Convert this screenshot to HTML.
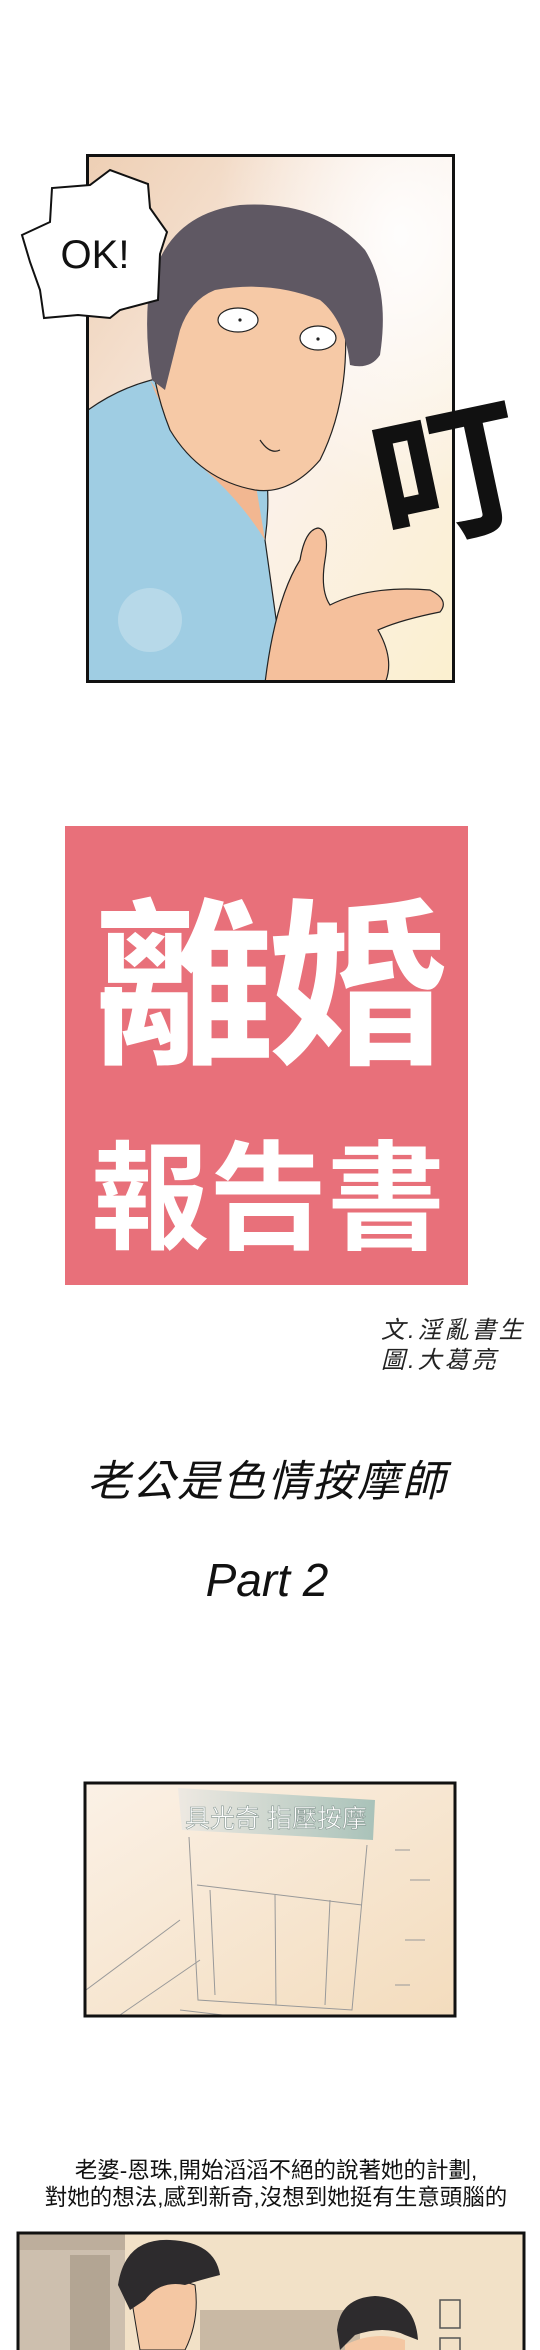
<!DOCTYPE html>
<html><head><meta charset="utf-8">
<style>
html,body{margin:0;padding:0;background:#fff;}
body{width:540px;height:2350px;overflow:hidden;position:relative;}
svg{display:block;}
.cjk{font-family:"Liberation Sans","Noto Sans CJK TC",sans-serif;}
</style></head>
<body>
<svg width="540" height="2350" viewBox="0 0 540 2350" xmlns="http://www.w3.org/2000/svg">
<defs>
 <linearGradient id="p1bg" x1="0" y1="0" x2="1" y2="1">
  <stop offset="0" stop-color="#eecfb4"/><stop offset="0.55" stop-color="#fbf1ea"/><stop offset="1" stop-color="#fbf0cf"/>
 </linearGradient>
 <radialGradient id="glow" cx="0.85" cy="0.15" r="0.5">
  <stop offset="0" stop-color="#fff" stop-opacity="0.9"/><stop offset="1" stop-color="#fff" stop-opacity="0"/>
 </radialGradient>
 <linearGradient id="p2bg" x1="0" y1="0" x2="1" y2="1">
  <stop offset="0" stop-color="#fbf1e6"/><stop offset="1" stop-color="#f3dcbd"/>
 </linearGradient>
 <linearGradient id="sign" x1="0" y1="0" x2="1" y2="0">
  <stop offset="0" stop-color="#eee9e2"/><stop offset="1" stop-color="#a9c2b9"/>
 </linearGradient>
 <clipPath id="c1"><rect x="88" y="156" width="365" height="525"/></clipPath>
 <clipPath id="c2"><rect x="86" y="1784" width="368" height="231"/></clipPath>
 <clipPath id="c3"><rect x="19" y="2234" width="504" height="120"/></clipPath>
</defs>

<g>
 <rect x="86" y="154" width="369" height="529" fill="url(#p1bg)"/>
 <g clip-path="url(#c1)">
  <rect x="86" y="154" width="369" height="529" fill="url(#glow)"/>
  <path d="M88 410 Q130 380 180 375 L250 400 Q275 470 265 540 L285 683 L88 683 Z" fill="#9fcde3" stroke="#222" stroke-width="1.2"/>
  <path d="M150 380 Q200 460 255 480 L265 540 Q240 500 205 470 Q170 430 150 380Z" fill="#f2b791"/>
  <path d="M155 290 Q165 250 230 250 Q330 250 345 320 Q350 400 320 460 Q290 495 255 490 Q200 480 170 430 Q150 380 150 330 Z" fill="#f6c9a6" stroke="#222" stroke-width="1.2"/>
  <path d="M148 300 Q160 215 240 205 Q320 200 365 250 Q390 290 380 355 Q370 370 350 365 Q345 320 320 300 Q270 280 215 290 Q190 300 180 330 Q170 370 165 390 L152 380 Q145 340 148 300Z" fill="#5f5863"/>
  <ellipse cx="238" cy="320" rx="20" ry="12" fill="#fff" stroke="#222" stroke-width="1.2"/>
  <ellipse cx="318" cy="338" rx="18" ry="12" fill="#fff" stroke="#222" stroke-width="1.2"/>
  <circle cx="240" cy="320" r="1.6" fill="#222"/><circle cx="318" cy="339" r="1.6" fill="#222"/>
  <path d="M260 440 Q270 455 280 450" fill="none" stroke="#222" stroke-width="1.2"/>
  <path d="M265 683 Q275 600 300 560 Q305 530 318 528 Q330 530 325 560 Q320 590 330 605 Q370 585 430 590 Q450 600 440 612 Q400 620 378 630 Q395 660 385 683Z" fill="#f5c09c" stroke="#222" stroke-width="1.2"/>
  <circle cx="150" cy="620" r="32" fill="#cfe6ef" opacity="0.5"/>
 </g>
 <rect x="87.5" y="155.5" width="366" height="526" fill="none" stroke="#111" stroke-width="3"/>
</g>
<g>
 <path d="M22 235 L50 222 L52 188 L90 185 L110 170 L148 184 L150 208 L167 232 L160 254 L158 300 L120 310 L110 318 L78 315 L44 318 L40 290 L30 262 Z" fill="#fff" stroke="#111" stroke-width="2"/>
 <text x="95" y="268" text-anchor="middle" font-family="Liberation Sans, sans-serif" font-size="40" fill="#111">OK!</text>
</g>
<text x="445" y="530" text-anchor="middle" class="cjk" font-size="150" font-weight="bold" fill="#111" transform="rotate(-12 445 460)">叮</text>

<g>
 <rect x="65" y="826" width="403" height="459" fill="#e8707a"/>
 <text x="268" y="1050" text-anchor="middle" class="cjk" font-size="180" font-weight="bold" fill="#fff" letter-spacing="-6">離婚</text>
 <text x="268" y="1240" text-anchor="middle" class="cjk" font-size="118" font-weight="bold" fill="#fff">報告書</text>
</g>
<text x="381" y="1338" class="cjk" font-size="24" fill="#222" font-style="italic" letter-spacing="3">文.淫亂書生</text>
<text x="381" y="1368" class="cjk" font-size="24" fill="#222" font-style="italic" letter-spacing="3">圖.大葛亮</text>
<text x="267" y="1496" text-anchor="middle" class="cjk" font-size="43" fill="#111" font-style="italic" letter-spacing="2">老公是色情按摩師</text>
<text x="267" y="1596" text-anchor="middle" font-family="Liberation Sans, sans-serif" font-size="46" font-style="italic" fill="#111">Part 2</text>

<g>
 <rect x="84" y="1782" width="372" height="235" fill="url(#p2bg)"/>
 <g clip-path="url(#c2)" stroke="#999" stroke-width="1" fill="none">
  <path d="M189 1837 L198 2000 L352 2010 L367 1845"/>
  <path d="M197 1885 L362 1905"/><path d="M210 1890 L215 1995"/><path d="M275 1895 L276 2005"/><path d="M330 1900 L325 2005"/>
  <path d="M180 2010 L350 2030"/><path d="M86 1990 L180 1920"/><path d="M120 2015 L200 1960"/>
  <path d="M395 1850 L410 1850"/><path d="M410 1880 L430 1880"/><path d="M405 1940 L425 1940"/><path d="M395 1985 L410 1985"/>
 </g>
 <path d="M178 1788 L375 1800 L373 1840 L182 1830 Z" fill="url(#sign)"/>
 <text x="276" y="1827" text-anchor="middle" class="cjk" font-size="25" fill="#fff" stroke="#8a9a95" stroke-width="0.6">具光奇 指壓按摩</text>
 <rect x="85" y="1783" width="370" height="233" fill="none" stroke="#111" stroke-width="3"/>
</g>

<text x="276" y="2178" text-anchor="middle" class="cjk" font-size="22.5" fill="#111">老婆-恩珠,開始滔滔不絕的說著她的計劃,</text>
<text x="276" y="2205" text-anchor="middle" class="cjk" font-size="22.5" fill="#111">對她的想法,感到新奇,沒想到她挺有生意頭腦的</text>

<g>
 <rect x="17" y="2232" width="508" height="130" fill="#f2e1c7"/>
 <g clip-path="url(#c3)">
  <rect x="19" y="2234" width="106" height="120" fill="#cdbfae"/>
  <rect x="19" y="2234" width="106" height="16" fill="#bdae9c"/>
  <rect x="70" y="2255" width="40" height="100" fill="#b3a593"/>
  <rect x="200" y="2310" width="160" height="50" fill="#c9b9a4"/>
  <path d="M130 2290 Q150 2270 195 2285 Q200 2320 185 2350 L140 2350 Z" fill="#f4c7a3" stroke="#222"/>
  <path d="M118 2285 Q125 2238 170 2240 Q215 2242 220 2275 Q200 2280 185 2285 Q160 2280 145 2300 L130 2310 Z" fill="#2d2b2d"/>
  <path d="M337 2330 Q340 2298 375 2296 Q415 2298 418 2340 L405 2335 Q385 2325 355 2335 L340 2350 Z" fill="#2d2b2d"/>
  <path d="M345 2345 Q375 2330 405 2340 L405 2360 L345 2360Z" fill="#f4c7a3"/>
  <rect x="440" y="2300" width="20" height="28" fill="none" stroke="#555" stroke-width="1.5"/>
  <rect x="440" y="2338" width="20" height="20" fill="none" stroke="#555" stroke-width="1.5"/>
 </g>
 <path d="M18 2350 L18 2233 L524 2233 L524 2350" fill="none" stroke="#111" stroke-width="3"/>
</g>
</svg>
</body></html>
